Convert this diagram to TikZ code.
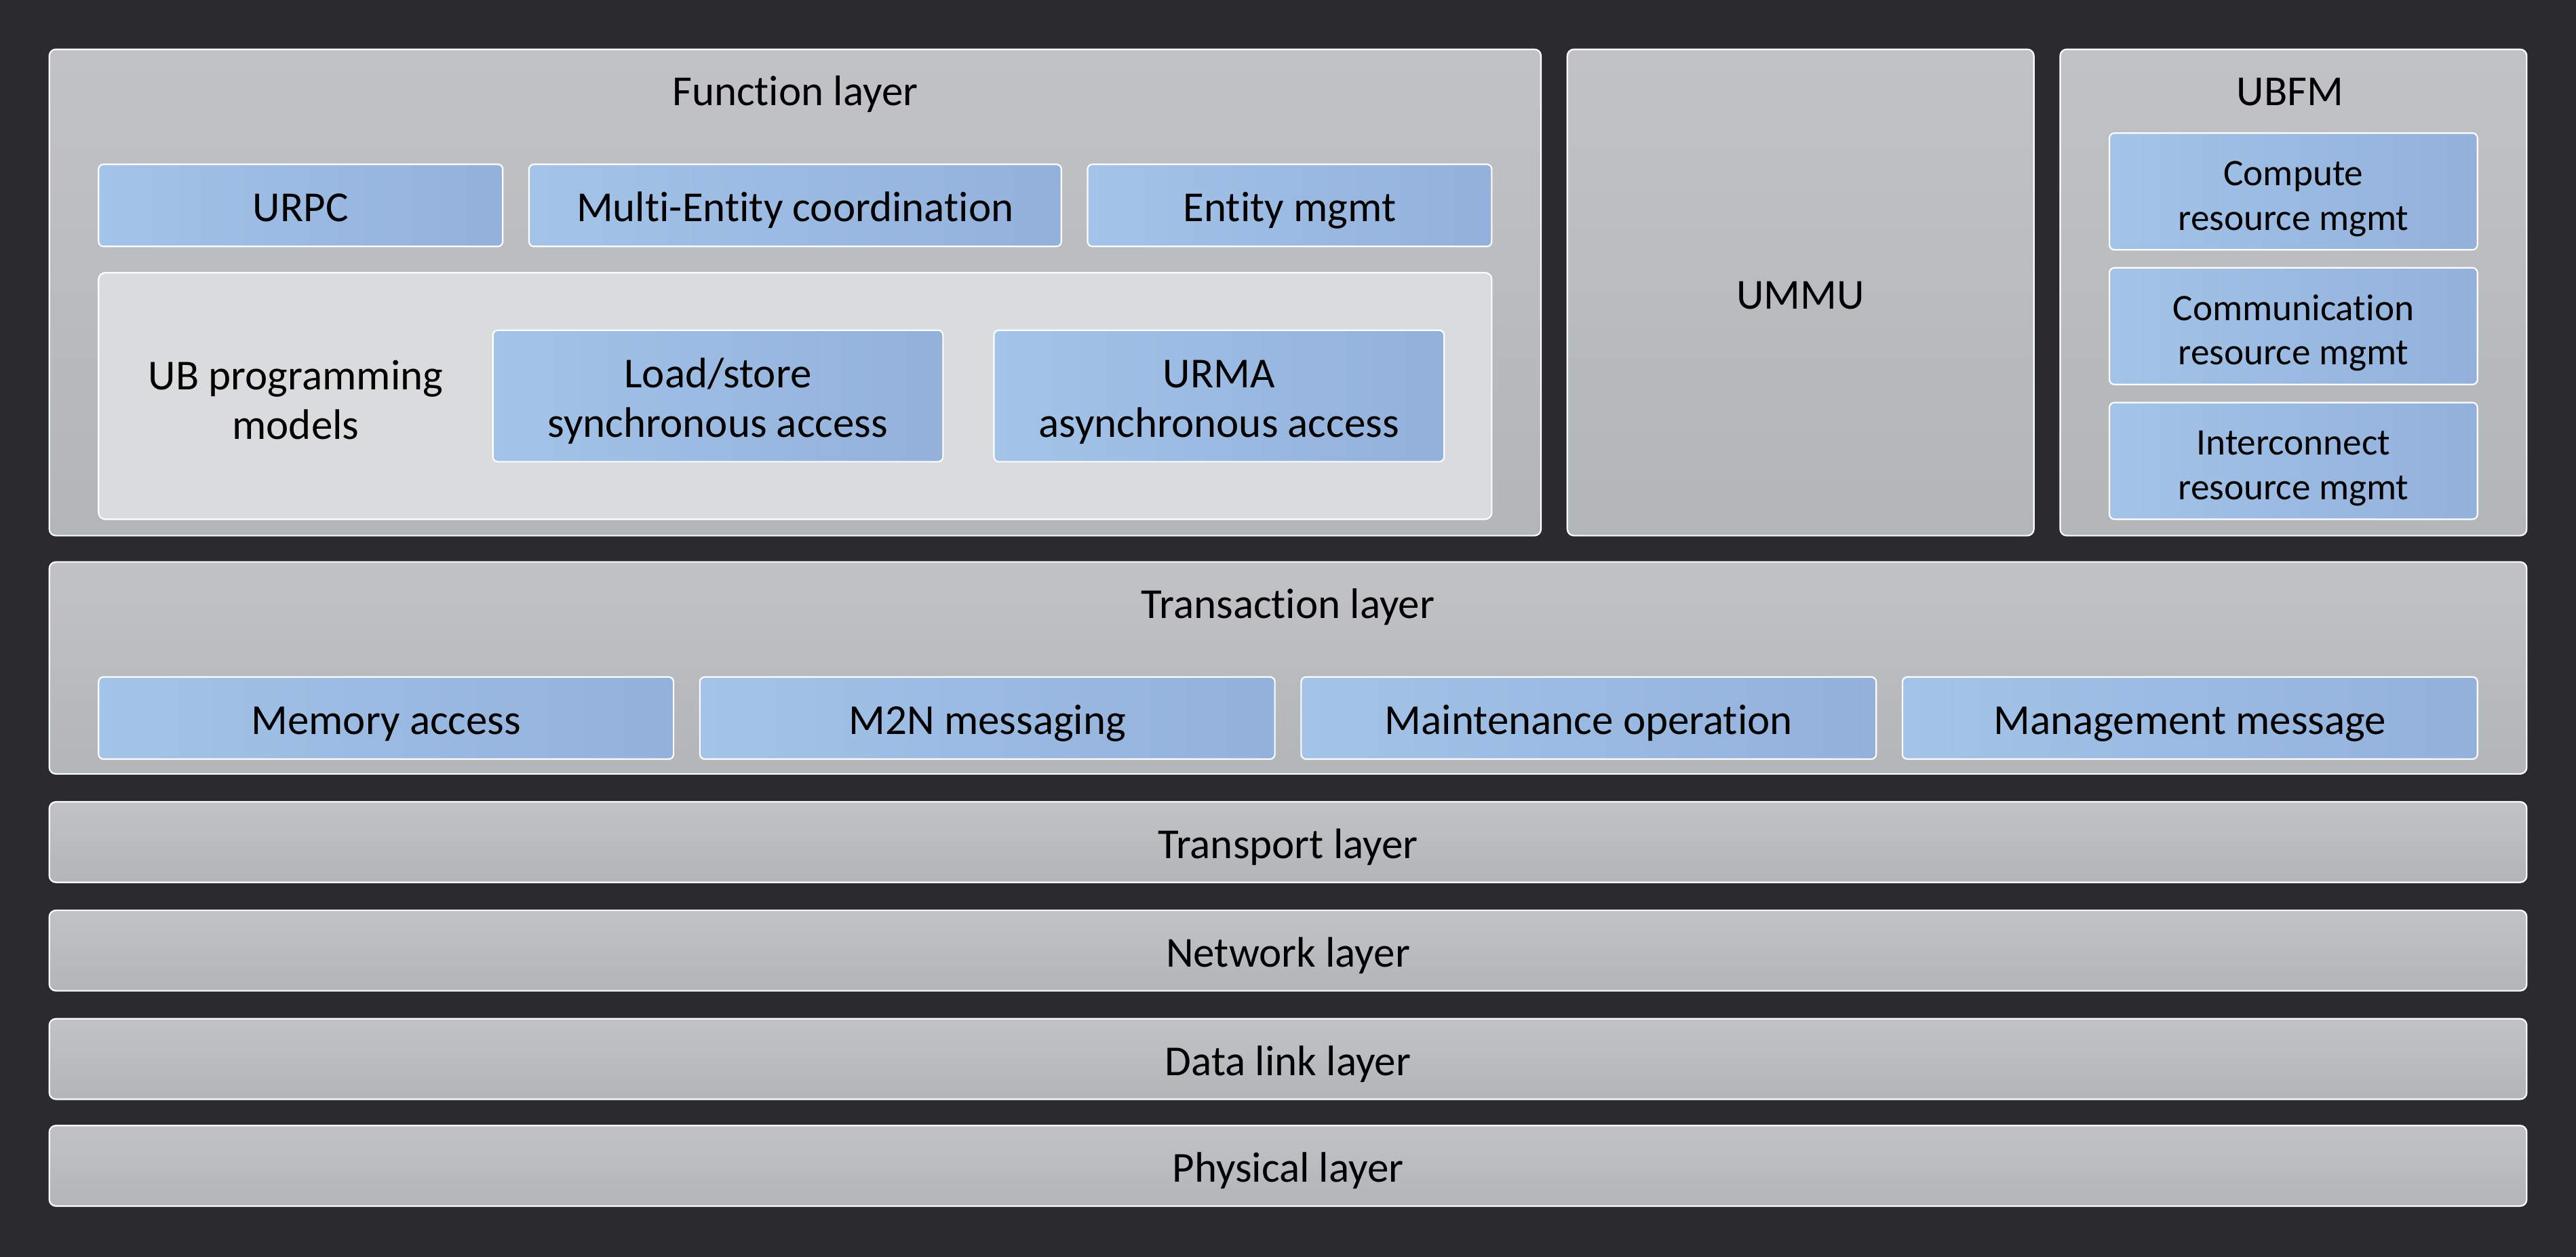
\documentclass[tikz,border=0pt]{standalone}
\usepackage{fontspec}
\setmainfont{Carlito}[Ligatures=NoCommon]
\usetikzlibrary{positioning}

\definecolor{bgdark}{RGB}{43,42,47}
\definecolor{laytop}{RGB}{193,194,197}
\definecolor{laybot}{RGB}{178,182,184}
\definecolor{blkleft}{RGB}{163,195,232}
\definecolor{blkright}{RGB}{147,177,219}
\definecolor{panelgray}{RGB}{218,219,221}

\newcommand{\mainfont}{\fontsize{26}{30}\selectfont}
\newcommand{\smallfont}{\fontsize{22.8}{27}\selectfont}

\begin{document}
\begin{tikzpicture}[
    x=1pt, y=-1pt,
    txt/.style={inner sep=0pt, outer sep=0pt, align=center, font=\mainfont, text height=27pt, text depth=7pt},
    twoln/.style={text height=57pt, text depth=7pt},
    layer/.style={txt, draw=white, line width=0.9pt, rounded corners=4pt, top color=laytop, bottom color=laybot},
    blk/.style={txt, draw=white, line width=0.9pt, rounded corners=3pt, left color=blkleft, right color=blkright},
    sblk/.style={blk, font=\smallfont, text height=54pt, minimum width=224pt, minimum height=71pt},
    panel/.style={draw=white, line width=0.9pt, rounded corners=4pt, fill=panelgray, inner sep=0pt, outer sep=0pt},
    bar/.style={layer, minimum width=1508pt, minimum height=49pt}
]
% --- Background ---
\fill[bgdark] (0,0) rectangle (1568,765);
\useasboundingbox (0,0) rectangle (1568,765);

% --- Function layer ---
\node[layer, minimum width=908pt, minimum height=296pt] (func) at (484,178) {};
\node[txt] (functtl) at (484,54.3) {Function layer};
\node[blk, minimum width=246pt, minimum height=50pt] (urpc)   at (183,125) {URPC};
\node[blk, minimum width=324pt, minimum height=50pt] (multi)  at (484,125) {Multi-Entity coordination};
\node[blk, minimum width=246pt, minimum height=50pt] (entity) at (785,125) {Entity mgmt};
\node[panel, minimum width=848pt, minimum height=150pt] (ubpm) at (484,241) {};
\node[txt, twoln] (ubpmtxt) at (180,242.3) {UB programming\\models};
\node[blk, twoln, minimum width=274pt, minimum height=80pt] (ldst) at (437,241) {Load/store\\synchronous access};
\node[blk, twoln, minimum width=274pt, minimum height=80pt] (urma) at (742,241) {URMA\\asynchronous access};

% --- UMMU ---
\node[layer, minimum width=284pt, minimum height=296pt] (ummu) at (1096,178) {UMMU};

% --- UBFM ---
\node[layer, minimum width=284pt, minimum height=296pt] (ubfm) at (1396,178) {};
\node[txt] (ubfmttl) at (1394,54.3) {UBFM};
\node[sblk] (comp) at (1396,116.5) {Compute\\resource mgmt};
\node[sblk] (comm) at (1396,198.5) {Communication\\resource mgmt};
\node[sblk] (intc) at (1396,280.5) {Interconnect\\resource mgmt};

% --- Transaction layer ---
\node[layer, minimum width=1508pt, minimum height=129pt] (trans) at (784,406.5) {};
\node[txt] (transttl) at (784,366.5) {Transaction layer};
\node[blk, minimum width=350pt, minimum height=50pt] (memacc) at (235,437)  {Memory access};
\node[blk, minimum width=350pt, minimum height=50pt] (m2n)    at (601,437)  {M2N messaging};
\node[blk, minimum width=350pt, minimum height=50pt] (maint)  at (967,437)  {Maintenance operation};
\node[blk, minimum width=350pt, minimum height=50pt] (mgmt)   at (1333,437) {Management message};

% --- Lower layers ---
\node[bar] (transp) at (784,512.5) {Transport layer};
\node[bar] (netw)   at (784,578.5) {Network layer};
\node[bar] (dlink)  at (784,644.5) {Data link layer};
\node[bar] (phys)   at (784,709.5) {Physical layer};
\end{tikzpicture}
\end{document}
